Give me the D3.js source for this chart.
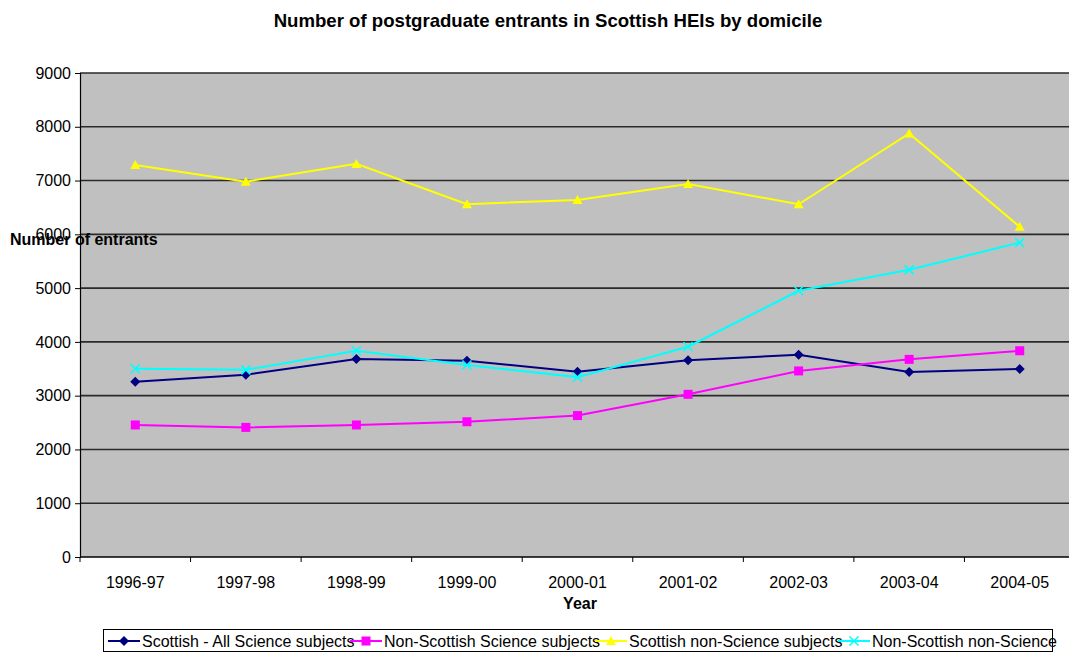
<!DOCTYPE html>
<html>
<head>
<meta charset="utf-8">
<script src="https://cdn.jsdelivr.net/npm/d3@7"></script>
<style>
  html, body { margin: 0; padding: 0; background: #fff; }
  svg { display: block; font-family: "Liberation Sans", Arial, sans-serif; }
</style>
</head>
<body>
<svg id="chart" width="1069" height="653"></svg>
<script>
// Academic years on the x axis
const years = ["1996-97", "1997-98", "1998-99", "1999-00", "2000-01", "2001-02", "2002-03", "2003-04", "2004-05"];

// Entrants per year for each domicile / subject group
const scottishScience = [3260, 3390, 3680, 3650, 3445, 3660, 3760, 3440, 3495];
const nonScottishScience = [2455, 2410, 2455, 2515, 2630, 3025, 3460, 3675, 3835];
const scottishNonScience = [7290, 6980, 7310, 6560, 6640, 6935, 6560, 7875, 6140];
const nonScottishNonScience = [3500, 3480, 3835, 3570, 3345, 3910, 4950, 5340, 5845];

const seriesNames = [
  "Scottish - All Science subjects",
  "Non-Scottish Science subjects",
  "Scottish non-Science subjects",
  "Non-Scottish non-Science"
];

const yTicks = [0, 1000, 2000, 3000, 4000, 5000, 6000, 7000, 8000, 9000];

const series = [
  { name: seriesNames[0], values: scottishScience, color: "#000080", symbol: "diamond" },
  { name: seriesNames[1], values: nonScottishScience, color: "#ff00ff", symbol: "square" },
  { name: seriesNames[2], values: scottishNonScience, color: "#ffff00", symbol: "triangle" },
  { name: seriesNames[3], values: nonScottishNonScience, color: "#00ffff", symbol: "cross" }
];

const svg = d3.select("#chart");
const plot = { left: 80, top: 73, right: 1075, bottom: 557 };
const fontSize = "16px";

const x = d3.scaleBand().domain(years).range([plot.left, plot.right]).paddingInner(0).paddingOuter(0);
const y = d3.scaleLinear().domain([0, 9000]).range([plot.bottom, plot.top]);
const cx = d => x(d) + x.bandwidth() / 2;

// Title
svg.append("text")
  .attr("x", 548).attr("y", 27)
  .attr("text-anchor", "middle")
  .attr("font-size", "18.6px").attr("font-weight", "bold")
  .text("Number of postgraduate entrants in Scottish HEIs by domicile");

// Plot background
svg.append("rect")
  .attr("x", plot.left).attr("y", plot.top)
  .attr("width", plot.right - plot.left).attr("height", plot.bottom - plot.top)
  .attr("fill", "#c0c0c0");

// Horizontal gridlines
svg.append("g").selectAll("line")
  .data(yTicks.filter(t => t > 0))
  .join("line")
  .attr("x1", plot.left).attr("x2", plot.right)
  .attr("y1", d => y(d)).attr("y2", d => y(d))
  .attr("stroke", "#2a2a2a").attr("stroke-width", 1.6);

// Y axis
const yAxis = svg.append("g")
  .attr("transform", `translate(${plot.left},0)`)
  .call(d3.axisLeft(y).tickValues(yTicks).tickSize(5).tickPadding(4).tickFormat(d3.format("d")));
yAxis.select(".domain").attr("stroke", "#000").attr("stroke-width", 1.2);
yAxis.selectAll(".tick line").attr("stroke", "#000");
yAxis.selectAll("text").attr("font-size", fontSize).attr("fill", "#000")
  .attr("font-family", "'Liberation Sans', Arial, sans-serif");

// X axis with ticks between categories
const xAxis = svg.append("g")
  .attr("transform", `translate(0,${plot.bottom})`)
  .call(d3.axisBottom(x).tickSize(0).tickPadding(20));
xAxis.select(".domain").remove();
xAxis.selectAll("text").attr("font-size", fontSize).attr("fill", "#000")
  .attr("font-family", "'Liberation Sans', Arial, sans-serif");
svg.append("line")
  .attr("x1", plot.left).attr("x2", plot.right)
  .attr("y1", plot.bottom).attr("y2", plot.bottom)
  .attr("stroke", "#000").attr("stroke-width", 1.5);
svg.append("g").selectAll("line")
  .data(years)
  .join("line")
  .attr("x1", d => x(d)).attr("x2", d => x(d))
  .attr("y1", plot.bottom).attr("y2", plot.bottom + 5)
  .attr("stroke", "#000");

// X axis title
svg.append("text")
  .attr("x", 580).attr("y", 609)
  .attr("text-anchor", "middle")
  .attr("font-size", fontSize).attr("font-weight", "bold")
  .text("Year");

// Marker shapes
function marker(sel, s, size) {
  if (s.symbol === "cross") {
    const h = size / 2;
    sel.append("path")
      .attr("d", `M${-h},${-h}L${h},${h}M${-h},${h}L${h},${-h}`)
      .attr("stroke", s.color).attr("stroke-width", 1.6).attr("fill", "none");
  } else if (s.symbol === "diamond") {
    const h = size / 2 + 0.5;
    sel.append("path")
      .attr("d", `M0,${-h}L${h},0L0,${h}L${-h},0Z`)
      .attr("fill", s.color);
  } else if (s.symbol === "square") {
    const h = size / 2;
    sel.append("rect")
      .attr("x", -h).attr("y", -h).attr("width", size).attr("height", size)
      .attr("fill", s.color);
  } else if (s.symbol === "triangle") {
    const h = size / 2 + 0.5;
    sel.append("path")
      .attr("d", `M0,${-h}L${h},${h * 0.8}L${-h},${h * 0.8}Z`)
      .attr("fill", s.color);
  }
}

const line = d3.line().x((d, i) => cx(years[i])).y(d => y(d));

series.forEach(s => {
  const g = svg.append("g");
  g.append("path")
    .datum(s.values)
    .attr("d", line)
    .attr("fill", "none")
    .attr("stroke", s.color)
    .attr("stroke-width", 2);
  g.selectAll("g.pt")
    .data(s.values)
    .join("g")
    .attr("class", "pt")
    .attr("transform", (d, i) => `translate(${cx(years[i])},${y(d)})`)
    .each(function () { marker(d3.select(this), s, 9); });
});

// Y axis title, drawn on top of the plot
svg.append("text")
  .attr("x", 10).attr("y", 245)
  .attr("font-size", fontSize).attr("font-weight", "bold")
  .text("Number of entrants");

// Legend
const legend = svg.append("g");
legend.append("rect")
  .attr("x", 103.5).attr("y", 629.5)
  .attr("width", 949).attr("height", 22)
  .attr("fill", "#fff").attr("stroke", "#000").attr("stroke-width", 1);
const legendX = [108, 350, 595, 838];
series.forEach((s, i) => {
  const g = legend.append("g").attr("transform", `translate(${legendX[i]},641)`);
  g.append("line").attr("x1", 0).attr("x2", 32).attr("y1", 0).attr("y2", 0)
    .attr("stroke", s.color).attr("stroke-width", 2);
  const m = g.append("g").attr("transform", "translate(16,0)");
  marker(m, s, 9);
  g.append("text")
    .attr("x", 34).attr("y", 6)
    .attr("font-size", fontSize)
    .text(s.name);
});
</script>
</body>
</html>
